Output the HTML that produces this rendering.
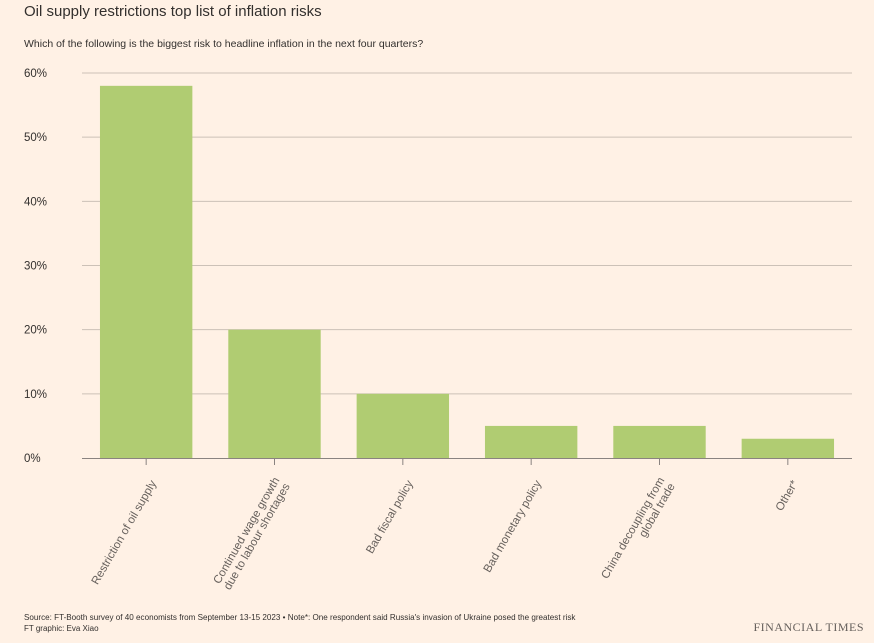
<!DOCTYPE html>
<html><head><meta charset="utf-8"><style>
html,body{margin:0;padding:0;background:#fff1e5;}
body{width:874px;height:638px;overflow:hidden;font-family:"Liberation Sans",sans-serif;}
text{font-family:"Liberation Sans",sans-serif;}
</style></head><body>
<svg width="874" height="638">
<text x="24" y="16" font-size="15" fill="#33302e">Oil supply restrictions top list of inflation risks</text>
<text x="24" y="47" font-size="10.5" fill="#33302e">Which of the following is the biggest risk to headline inflation in the next four quarters?</text>
<g id="grid"></g><g id="bars"></g><g id="xlabels"></g>
<text x="24" y="620" font-size="8.1" fill="#33302e">Source: FT-Booth survey of 40 economists from September 13-15 2023 • Note*: One respondent said Russia's invasion of Ukraine posed the greatest risk</text>
<text x="24" y="631" font-size="8" fill="#33302e">FT graphic: Eva Xiao</text>
<text x="864" y="631" font-size="12" text-anchor="end" fill="#66605c" style="font-family:'Liberation Serif',serif;letter-spacing:0.5px">FINANCIAL TIMES</text>
</svg>
<script>
const categories=["Restriction of oil supply","Continued wage growth|due to labour shortages","Bad fiscal policy","Bad monetary policy","China decoupling from|global trade","Other*"];
const values=[58,20,10,5,5,3];
const yTicks=[0,10,20,30,40,50,60];
const yTickLabels=["0%","10%","20%","30%","40%","50%","60%"];
const NS="http://www.w3.org/2000/svg";
const x0=82,x1=852,yBase=458,yTop=73,yMax=60;
const y=v=>yBase-(v/yMax)*(yBase-yTop);
const band=(x1-x0)/categories.length, barW=band*0.72;
const bx=i=>x0+band*i+(band-barW)/2;
function mk(tag,attrs,parent){const e=document.createElementNS(NS,tag);for(const k in attrs)e.setAttribute(k,attrs[k]);parent.appendChild(e);return e;}
const grid=document.getElementById('grid');
yTicks.forEach((t,i)=>{
 if(t>0){const l=mk('line',{x1:x0,x2:x1,y1:y(t),y2:y(t),stroke:'#ccc1b7','stroke-width':1},grid);
 
 }
 const tx=mk('text',{x:24,y:y(t)+4,'font-size':11.5,fill:'#33302e'},grid);tx.textContent=yTickLabels[i];
 
 
});
const bars=document.getElementById('bars');
values.forEach((v,i)=>{
 const r=mk('rect',{x:bx(i),y:y(v),width:barW,height:yBase-y(v),fill:'#b0cc72'},bars);
 
 
});
const ax=mk('line',{x1:x0,x2:x1,y1:yBase+0.5,y2:yBase+0.5,stroke:'#8a8380','stroke-width':1},bars);


const xl=document.getElementById('xlabels');
categories.forEach((c,i)=>{
 const cx=x0+band*(i+0.5);
 const tk=mk('line',{x1:cx,x2:cx,y1:yBase,y2:yBase+7,stroke:'#8a8380'},xl);
 
 
 const lines=c.split('|');
 const g=mk('g',{transform:`translate(${cx+7},${yBase+23}) rotate(-60)`},xl);
 
 
 lines.forEach((ln,j)=>{
  const t=mk('text',{x:0,y:(j-(lines.length-1)/2)*12+4,'font-size':11.5,fill:'#66605c','text-anchor':'end'},g);
  t.textContent=ln;
 });
});
</script>
</body></html>
